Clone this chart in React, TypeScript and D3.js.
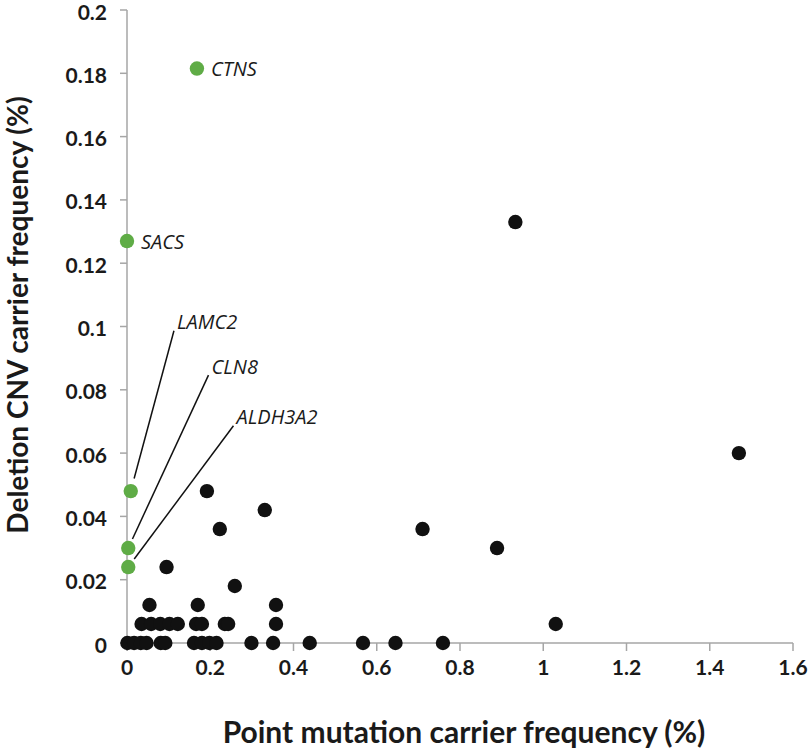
import React from "react";
import * as d3 from "d3";

// Black points: point mutation carrier freq (%) vs deletion CNV carrier freq (%)
const otherX = [
  0.001, 0.017, 0.033, 0.047, 0.081, 0.092, 0.161, 0.18, 0.198, 0.215, 0.299, 0.351, 0.439, 0.567, 0.645, 0.759,
  0.035, 0.058, 0.08, 0.102, 0.122, 0.166, 0.18, 0.235, 0.243, 0.358, 1.03,
  0.054, 0.17, 0.358,
  0.259,
  0.095,
  0.889,
  0.223, 0.71,
  0.331,
  0.192,
  1.47,
  0.933,
];
const otherY = [
  0, 0, 0, 0, 0, 0, 0, 0, 0, 0, 0, 0, 0, 0, 0, 0,
  0.006, 0.006, 0.006, 0.006, 0.006, 0.006, 0.006, 0.006, 0.006, 0.006, 0.006,
  0.012, 0.012, 0.012,
  0.018,
  0.024,
  0.03,
  0.036, 0.036,
  0.042,
  0.048,
  0.06,
  0.133,
];

// Highlighted genes
const geneNames = ["CTNS", "SACS", "LAMC2", "CLN8", "ALDH3A2"];
const geneX = [0.168, 0.0, 0.009, 0.003, 0.003];
const geneY = [0.1815, 0.127, 0.048, 0.03, 0.024];
// Leader-label anchor (data units) for genes with callouts; null = label beside point
const labelAnchorX = [null, null, 0.12, 0.203, 0.263];
const labelAnchorY = [null, null, 0.1015, 0.0875, 0.0715];

const xTicks = [0, 0.2, 0.4, 0.6, 0.8, 1, 1.2, 1.4, 1.6];
const yTicks = [0, 0.02, 0.04, 0.06, 0.08, 0.1, 0.12, 0.14, 0.16, 0.18, 0.2];

const W = 810;
const H = 750;
const M = { left: 127, right: 17, top: 10, bottom: 107 };

export default function App() {
  const x = d3.scaleLinear().domain([0, 1.6]).range([M.left, W - M.right]);
  const y = d3.scaleLinear().domain([0, 0.2]).range([H - M.bottom, M.top]);
  const axisColor = "#a6a6a6";
  const green = "#5fac46";
  const font = "Lato, 'Open Sans', sans-serif";
  const labelFont = "'Open Sans', sans-serif";

  const fmt = (v: number) => (v === 0 ? "0" : String(+v.toFixed(2)));

  return (
    <svg
      width={W}
      height={H}
      style={{ position: "absolute", left: 0, top: 0, background: "#fff" }}
      fontFamily={font}
    >
      {/* axes */}
      <line x1={x(0)} x2={x(0)} y1={y(0)} y2={y(0.2)} stroke={axisColor} strokeWidth={1.5} />
      <line x1={x(0)} x2={x(1.6)} y1={y(0)} y2={y(0)} stroke={axisColor} strokeWidth={1.5} />
      {yTicks.map((t) => (
        <g key={"yt" + t}>
          <line x1={x(0) - 7} x2={x(0)} y1={y(t)} y2={y(t)} stroke={axisColor} strokeWidth={1.5} />
          <text
            x={x(0) - 20}
            y={y(t) + 1}
            textAnchor="end"
            dominantBaseline="central"
            fontSize={21}
            fontWeight="bold"
            fill="#1a1a1a"
          >
            {fmt(t)}
          </text>
        </g>
      ))}
      {xTicks.map((t) => (
        <g key={"xt" + t}>
          <line x1={x(t)} x2={x(t)} y1={y(0)} y2={y(0) + 8} stroke={axisColor} strokeWidth={1.5} />
          <text
            x={x(t)}
            y={y(0) + 23}
            textAnchor="middle"
            dominantBaseline="central"
            fontSize={21}
            fontWeight="bold"
            fill="#1a1a1a"
          >
            {fmt(t)}
          </text>
        </g>
      ))}
      <text
        x={464}
        y={743}
        textAnchor="middle"
        fontSize={30}
        fontWeight="bold"
        fill="#1a1a1a"
      >
        Point mutation carrier frequency (%)
      </text>
      <text
        transform={`translate(28,${315}) rotate(-90)`}
        textAnchor="middle"
        fontSize={28}
        fontWeight="bold"
        fill="#1a1a1a"
      >
        Deletion CNV carrier frequency (%)
      </text>

      {/* leader lines */}
      {geneNames.map((g, i) => {
        const ax = labelAnchorX[i];
        const ay = labelAnchorY[i];
        if (ax === null || ay === null) return null;
        const px = x(geneX[i]);
        const py = y(geneY[i]);
        const lx = x(ax) - 3;
        const ly = y(ay) + 9;
        const dx = lx - px;
        const dy = ly - py;
        const len = Math.sqrt(dx * dx + dy * dy);
        const gap = i === 2 ? 13 : 10;
        return (
          <line
            key={"ll" + g}
            x1={px + (dx / len) * gap}
            y1={py + (dy / len) * gap}
            x2={lx}
            y2={ly}
            stroke="#111"
            strokeWidth={1.5}
          />
        );
      })}

      {/* black points */}
      {otherX.map((v, i) => (
        <circle key={"p" + i} cx={x(v)} cy={y(otherY[i])} r={7.2} fill="#111" />
      ))}

      {/* green points + labels */}
      {geneNames.map((g, i) => {
        const ax = labelAnchorX[i];
        const ay = labelAnchorY[i];
        const tx = ax === null ? x(geneX[i]) + 14 : x(ax);
        const ty = ay === null ? y(geneY[i]) : y(ay);
        return (
          <g key={"g" + g}>
            <circle cx={x(geneX[i])} cy={y(geneY[i])} r={7.2} fill={green} />
            <text
              x={tx}
              y={ty}
              dominantBaseline="central"
              fontSize={20}
              fontStyle="italic"
              fontFamily={labelFont}
              fill="#1a1a1a"
            >
              {g}
            </text>
          </g>
        );
      })}
    </svg>
  );
}
